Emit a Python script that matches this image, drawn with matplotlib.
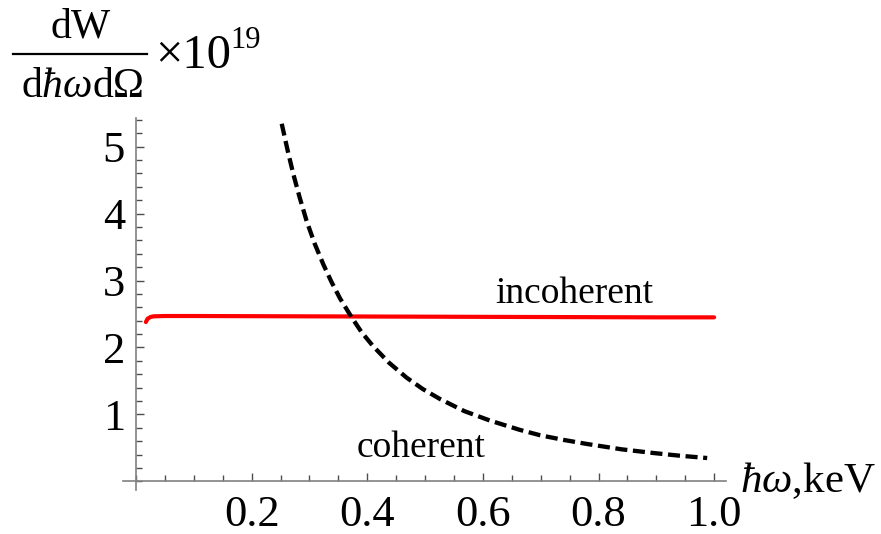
import numpy as np
import matplotlib
matplotlib.use("Agg")
import matplotlib.pyplot as plt
from matplotlib.ticker import MultipleLocator, FixedLocator

plt.rcParams['font.family'] = ['Liberation Serif', 'DejaVu Serif']
plt.rcParams['mathtext.fontset'] = 'custom'
plt.rcParams['mathtext.rm'] = 'Liberation Serif'
plt.rcParams['mathtext.it'] = 'Liberation Serif:italic'

# values
incoh_x = [0.017, 0.020, 0.025, 0.030, 0.05, 0.10, 0.30, 0.50, 0.70, 0.90, 1.00]
incoh_y = [2.38, 2.43, 2.455, 2.465, 2.47, 2.47, 2.465, 2.46, 2.455, 2.45, 2.45]

coh_x = [0.252, 0.262, 0.272, 0.283, 0.295, 0.309, 0.324, 0.338, 0.353, 0.373, 0.39, 0.41,
         0.438, 0.468, 0.496, 0.526, 0.568, 0.612, 0.664, 0.699, 0.74, 0.78, 0.84, 0.895,
         0.94, 0.988]
coh_y = [5.34, 4.95, 4.59, 4.24, 3.89, 3.55, 3.24, 2.98, 2.73, 2.45, 2.23, 2.02,
         1.77, 1.55, 1.38, 1.23, 1.05, 0.91, 0.77, 0.69, 0.62, 0.56, 0.48, 0.425,
         0.385, 0.35]

x_ticks = [0.2, 0.4, 0.6, 0.8, 1.0]
x_labels = ['0.2', '0.4', '0.6', '0.8', '1.0']
y_ticks = [1, 2, 3, 4, 5]

fig = plt.figure(figsize=(8.81, 5.34), dpi=100)
ax = fig.add_axes([0.140, 0.0833, 0.6837, 0.695])

ax.plot(incoh_x, incoh_y, color='#ff0000', lw=3.0, solid_capstyle='round')
ax.plot(coh_x, coh_y, color='black', lw=3.1, dashes=(2.8, 1.3))

ax.set_xlim(-0.022, 1.02)
ax.set_ylim(-0.12, 5.42)

for s in ['top', 'right']:
    ax.spines[s].set_visible(False)
ax.spines['left'].set_position(('data', 0))
ax.spines['bottom'].set_position(('data', 0))
for s in ['left', 'bottom']:
    ax.spines[s].set_color('0.5')
    ax.spines[s].set_linewidth(1.2)

ax.xaxis.set_major_locator(FixedLocator(x_ticks))
ax.set_xticklabels(x_labels)
ax.xaxis.set_minor_locator(MultipleLocator(0.05))
ax.yaxis.set_major_locator(FixedLocator(y_ticks))
ax.yaxis.set_minor_locator(MultipleLocator(0.2))

ax.tick_params(which='both', direction='in', color='0.3', width=1.0)
ax.tick_params(which='major', length=6, labelsize=32)
ax.tick_params(which='minor', length=4)
ax.tick_params(axis='x', which='major', pad=10)
ax.tick_params(axis='y', which='major', pad=8)

ax.text(0.621, 2.67, 'incoherent', fontsize=27, ha='left', va='baseline')
ax.text(0.382, 0.37, 'coherent', fontsize=27, ha='left', va='baseline')

fig.text(740 / 881, 1 - 492 / 534, r'$ħω$,keV', fontsize=31, ha='left', va='baseline')

# y label: dW / (dħω dΩ) ×10^19
fig.text(81 / 881, 1 - 38 / 534, 'dW', fontsize=30, ha='center', va='baseline')
fig.add_artist(plt.Line2D([13 / 881, 147 / 881], [1 - 54 / 534, 1 - 54 / 534],
                          color='black', lw=1.6))
fig.text(82 / 881, 1 - 97 / 534, r'$\mathrm{d}ħω\mathrm{d}\Omega$', fontsize=30,
         ha='center', va='baseline')
fig.text(155 / 881, 1 - 68 / 534, '×10', fontsize=35, ha='left', va='baseline')
fig.text(230 / 881, 1 - 48 / 534, '19', fontsize=22, ha='left', va='baseline')

fig.savefig('out.png', dpi=100)
